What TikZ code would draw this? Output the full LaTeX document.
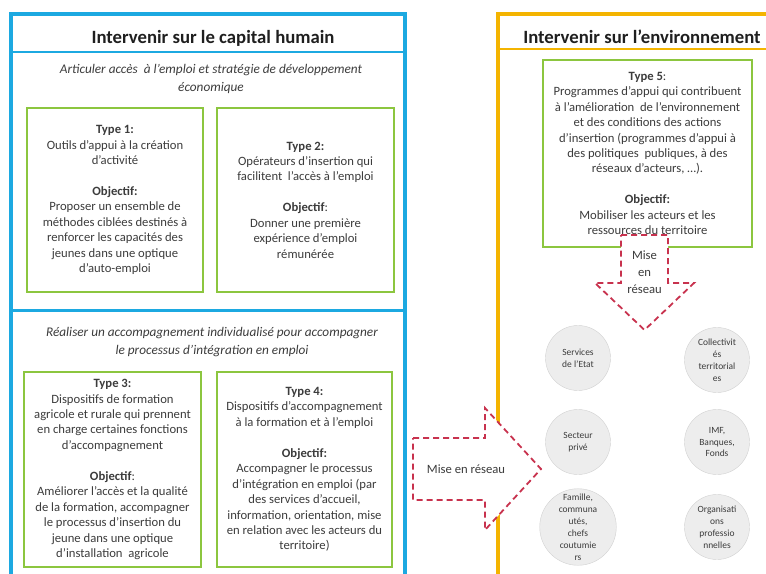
\documentclass[tikz,border=0pt]{standalone}
\usepackage{fontspec}
\setmainfont{Carlito}

\definecolor{capblue}{HTML}{1CA9E1}
\definecolor{envyellow}{HTML}{F4B400}
\definecolor{typegreen}{HTML}{8CC63F}
\definecolor{netred}{HTML}{C8324E}
\definecolor{txtgray}{HTML}{3C3C3C}

\begin{document}
\begin{tikzpicture}[
        x=1bp, y=-1bp,
        frame/.style={line width=4bp},
        typebox/.style={draw=typegreen, line width=2.5bp, fill=white, align=center,
            text=txtgray, font=\fontsize{12.7}{15.5}\selectfont},
        heading/.style={font=\fontsize{18.8}{22}\selectfont\bfseries, text=black!88},
        sub/.style={align=center, text=txtgray, font=\fontsize{13.3}{18}\selectfont\itshape},
        net/.style={draw=netred, line width=1.8bp, dash pattern=on 6bp off 4bp, fill=white},
        netlab/.style={align=center, text=txtgray, font=\fontsize{12.7}{17}\selectfont},
        actor/.style={circle, draw=black!18, fill=black!7, minimum size=65bp, inner sep=0pt,
            align=center, text=txtgray, font=\fontsize{9.5}{12}\selectfont}
    ]

        \useasboundingbox (0,0) rectangle (766,574);
        \clip (0,0) rectangle (766,574);

        % Capital humain frame
        \draw[capblue, frame] (11,14) rectangle (405,600);
        \draw[capblue, line width=2.5bp] (11,52) -- (405,52);
        \draw[capblue, line width=3bp] (11,310) -- (405,310);
        \node[heading] (capital) at (213,38) {Intervenir sur le capital humain};

        % Environnement frame
        \draw[envyellow, frame] (498,14) rectangle (800,600);
        \draw[envyellow, line width=1.5bp] (498,49) -- (800,49);
        \node[heading] (environ) at (642,37) {Intervenir sur l’environnement};

        % First block
        \node[sub] (articuler) at (211,79) {Articuler accès \ à l’emploi et stratégie de développement\\économique};
        \node[typebox, minimum width=176bp, minimum height=184bp] (type1) at (115,200) {
            \textbf{Type 1:}\\Outils d’appui à la création\\d’activité\\[15.5bp]
            \textbf{Objectif:}\\Proposer un ensemble de\\méthodes ciblées destinés à\\renforcer les capacités des\\jeunes dans une optique\\d’auto-emploi
        };
        \node[typebox, minimum width=177bp, minimum height=184bp] (type2) at (305.5,200) {
            \textbf{Type 2:}\\Opérateurs d’insertion qui\\facilitent \ l’accès à l’emploi\\[15.5bp]
            \textbf{Objectif}:\\Donner une première\\expérience d’emploi\\rémunérée
        };

        % Second block
        \node[sub] (realiser) at (212,342) {Réaliser un accompagnement individualisé pour accompagner\\le processus d’intégration en emploi};
        \node[typebox, minimum width=177bp, minimum height=195bp] (type3) at (112.5,469.5) {
            \textbf{Type 3:}\\Dispositifs de formation\\agricole et rurale qui prennent\\en charge certaines fonctions\\d’accompagnement\\[15.5bp]
            \textbf{Objectif}:\\Améliorer l’accès et la qualité\\de la formation, accompagner\\le processus d’insertion du\\jeune dans une optique\\d’installation \ agricole
        };
        \node[typebox, minimum width=175bp, minimum height=195bp] (type4) at (304.5,469.5) {
            \textbf{Type 4:}\\Dispositifs d’accompagnement\\à la formation et à l’emploi\\[15.5bp]
            \textbf{Objectif:}\\Accompagner le processus\\d’intégration en emploi (par\\des services d’accueil,\\information, orientation, mise\\en relation avec les acteurs du\\territoire)
        };

        % Type 5
        \node[typebox, minimum width=209bp, minimum height=187bp] (type5) at (647.5,153.5) {
            \textbf{Type 5}:\\Programmes d’appui qui contribuent\\à l’amélioration \ de l’environnement\\et des conditions des actions\\d’insertion (programmes d’appui à\\des politiques \ publiques, à des\\réseaux d’acteurs, …).\\[15.5bp]
            \textbf{Objectif:}\\Mobiliser les acteurs et les\\ressources du territoire
        };

        % Mise en reseau arrows
        \draw[net] (621,235) -- (668,235) -- (668,283) -- (694,283) -- (644.5,330)
            -- (595,283) -- (621,283) -- cycle;
        \node[netlab] (miseDown) at (644.5,272) {Mise\\en\\réseau};
        \draw[net] (413,438) -- (485,438) -- (485,408) -- (541,469) -- (485,530)
            -- (485,500) -- (413,500) -- cycle;
        \node[netlab] (miseRight) at (466,469) {Mise en réseau};

        % Acteurs du territoire
        \node[actor] (etat) at (578,358) {Services\\de l’Etat};
        \node[actor] (collect) at (717,360) {Collectivit\\és\\territorial\\es};
        \node[actor] (prive) at (578,442) {Secteur\\privé};
        \node[actor] (imf) at (717,442) {IMF,\\Banques,\\Fonds};
        \node[actor] (famille) at (578,527) {Famille,\\communa\\utés,\\chefs\\coutumie\\rs};
        \node[actor] (orga) at (717,527) {Organisati\\ons\\professio\\nnelles};

    \end{tikzpicture}
\end{document}
